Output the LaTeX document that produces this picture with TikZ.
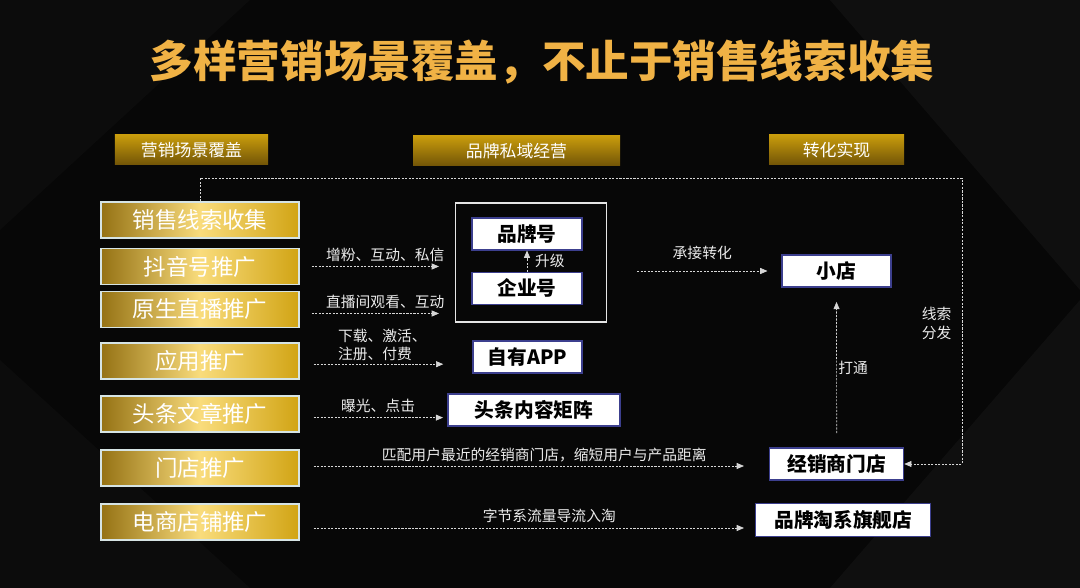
\documentclass[tikz,border=0pt]{standalone}
\usepackage{fontspec}
\setmainfont{Noto Sans CJK SC}
\usetikzlibrary{arrows.meta,positioning}

\definecolor{bgdark}{HTML}{070707}
\definecolor{titlegold}{HTML}{F0B245}
\definecolor{goldedge}{HTML}{957214}
\definecolor{goldlight}{HTML}{F9DC7C}
\definecolor{goldmid}{HTML}{D1A414}
\definecolor{headtop}{HTML}{C99C0C}
\definecolor{headbot}{HTML}{715407}
\definecolor{boxline}{HTML}{3C3F8E}
\definecolor{flowgrey}{HTML}{D6D6D6}

\begin{document}
\begin{tikzpicture}[x=0.25mm, y=-0.25mm,
		scene/.style={draw={rgb,255:red,214;green,228;blue,228}, line width=0.8pt, left color=goldedge, right color=goldmid, middle color=goldlight, minimum width=49.5mm, minimum height=9mm, inner sep=0pt, text=white, font=\fontsize{16}{18}\selectfont},
		header/.style={top color=headtop, bottom color=headbot, minimum height=7.5mm, inner sep=0pt, text=white, font=\fontsize{12}{14}\selectfont},
		target/.style={draw=boxline, line width=0.8pt, fill=white, minimum height=8mm, inner sep=0pt, text=black, font=\bfseries\fontsize{14}{16}\selectfont},
		flow/.style={flowgrey, line width=0.5pt, dash pattern={on 1.5pt off 1pt}, -{Triangle[length=1.8mm, width=1.5mm]}},
		lbl/.style={text=white!92!black, font=\fontsize{10.5}{13}\selectfont, inner sep=1pt}]
			%%%%% BACKGROUND %%%%%
			
			\useasboundingbox (0, 0) rectangle (1080, 588);
			\fill[bgdark] (0, 0) rectangle (1080, 588);
			\fill[white, opacity=0.025] (0, 0) -- (250, 0) -- (0, 230) -- cycle;
			\fill[white, opacity=0.035] (830, 0) -- (1080, 0) -- (1080, 290) -- cycle;
			\fill[white, opacity=0.035] (1080, 300) -- (1080, 588) -- (830, 588) -- cycle;
			\fill[white, opacity=0.025] (0, 360) -- (0, 588) -- (250, 588) -- cycle;
			
			%%%%% TITLE AND HEADERS %%%%%
			
			\node[text=titlegold, font=\bfseries\fontsize{31}{36}\selectfont] (title) at (542, 62) {多样营销场景覆盖，不止于销售线索收集};
			
			\node[header, minimum width=38.25mm] (hscene) at (191.5, 150) {营销场景覆盖};
			\node[header, minimum width=51.75mm] (hprivate) at (516.5, 151) {品牌私域经营};
			\node[header, minimum width=33.75mm] (hconvert) at (836.5, 150) {转化实现};
			
			%%%%% SCENES %%%%%
			
			\node[scene] (leads) at (200, 220) {销售线索收集};
			\node[scene] (douyin) at (200, 266.5) {抖音号推广};
			\node[scene] (live) at (200, 309.5) {原生直播推广};
			\node[scene] (apppromo) at (200, 361) {应用推广};
			\node[scene] (article) at (200, 414) {头条文章推广};
			\node[scene] (store) at (200, 468) {门店推广};
			\node[scene] (eshop) at (200, 522) {电商店铺推广};
			
			%%%%% TARGETS %%%%%
			
			\node[draw=white!90!black, line width=0.8pt, minimum width=37.75mm, minimum height=29.75mm] (brandframe) at (531, 262.5) {};
			\node[target, minimum width=27.5mm] (brandacc) at (527, 234) {品牌号};
			\node[target, minimum width=27.5mm] (bizacc) at (527, 288.3) {企业号};
			\node[target, minimum width=27.25mm] (ownapp) at (527.5, 357) {自有APP};
			\node[target, minimum width=43mm] (matrix) at (534, 410) {头条内容矩阵};
			\node[target, minimum width=27.25mm] (shop) at (836.5, 271) {小店};
			\node[target, minimum width=33.5mm] (dealer) at (836.7, 464) {经销商门店};
			\node[target, minimum width=43.75mm, minimum height=8.2mm] (flagship) at (843.2, 520.3) {品牌淘系旗舰店};
			
			%%%%% FLOWS %%%%%
			
			\draw[flow, shorten <=3mm, shorten >=4mm] (douyin) -- (douyin -| brandframe.west)
				node[lbl, midway, above=0.7mm, xshift=2mm] (lblfans) {增粉、互动、私信};
			\draw[flow, shorten <=3mm, shorten >=4mm] ([yshift=-1mm]live.east) -- ([yshift=-1mm]live.east -| brandframe.west)
				node[lbl, midway, above=0.7mm, xshift=2mm] (lbllive) {直播间观看、互动};
			\draw[flow, shorten <=3.5mm, shorten >=7.3mm] ([yshift=-0.8mm]apppromo.east) -- ([yshift=-0.8mm]apppromo.east -| ownapp.west)
				node[lbl, pos=0.38, above=0.4mm, xshift=4.3mm, align=left] (lblapp) {下载、激活、\\注册、付费};
			\draw[flow, shorten <=3.5mm, shorten >=1.1mm] ([yshift=-0.9mm]article.east) -- ([yshift=-0.9mm]article.east -| matrix.west)
				node[lbl, pos=0.45, above=0.9mm, xshift=3mm] (lblview) {曝光、点击};
			\draw[flow, shorten <=3.5mm, shorten >=6.3mm] ([yshift=0.5mm]store.east) -- ([yshift=0.5mm]store.east -| dealer.west)
				node[lbl, midway, above=0.6mm, xshift=2.5mm] (lblmatch) {匹配用户最近的经销商门店，缩短用户与产品距离};
			\draw[flow, shorten <=3.5mm, shorten >=2.8mm] ([yshift=-1.5mm]eshop.east) -- ([yshift=-1.5mm]eshop.east -| flagship.west)
				node[lbl, midway, above=1mm, xshift=5.5mm] (lbltaobao) {字节系流量导流入淘};
			
			\draw[flow] (bizacc) -- (brandacc) node[lbl, midway, right=1.6mm] (lblup) {升级};
			\draw[flow, shorten <=7.5mm, shorten >=3.5mm] (brandframe.east |- shop) -- (shop)
				node[lbl, midway, above=2.5mm, xshift=2mm] (lblaccept) {承接转化};
			\draw[flow, shorten <=3.6mm, shorten >=3.6mm] (dealer) -- (shop)
				node[lbl, midway, right=0mm] (lblopen) {打通};
			
			\coordinate (loopcorner) at (962, 178);
			\draw[flow] (leads.north) |- (loopcorner) |- (dealer.east);
			\node[lbl, align=center, font=\fontsize{10.5}{13}\selectfont] (lblsplit) at (936.7, 323.3) {线索\\分发};
			
			%%%%% END %%%%%
		\end{tikzpicture}
\end{document}
